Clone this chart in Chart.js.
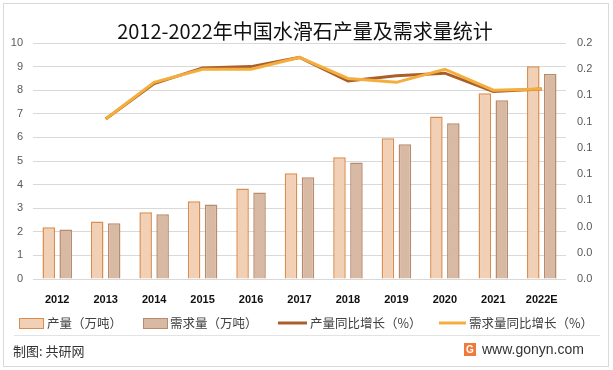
<!DOCTYPE html>
<html>
<head>
<meta charset="utf-8">
<script src="https://cdn.jsdelivr.net/npm/chart.js@4/dist/chart.umd.min.js"></script>
<style>
  html, body { margin: 0; padding: 0; background: #fff; }
  #wrap { width: 613px; height: 370px; }
</style>
</head>
<body>
<div id="wrap"><canvas id="c" width="613" height="370"></canvas></div>
<script>
// data
const years = ["2012", "2013", "2014", "2015", "2016", "2017", "2018", "2019", "2020", "2021", "2022E"];
const output = [2.19, 2.44, 2.83, 3.29, 3.84, 4.48, 5.16, 5.96, 6.89, 7.87, 9.01];
const demand = [2.10, 2.36, 2.74, 3.16, 3.67, 4.31, 4.94, 5.71, 6.60, 7.57, 8.69];
const outputGrowth = [null, 0.122, 0.149, 0.161, 0.162, 0.169, 0.151, 0.155, 0.157, 0.143, 0.145];
const demandGrowth = [null, 0.122, 0.150, 0.160, 0.160, 0.169, 0.153, 0.150, 0.160, 0.144, 0.145];
const labels = ["产量（万吨）", "需求量（万吨）", "产量同比增长（%）", "需求量同比增长（%）"];

const cjk = '"Noto Sans CJK SC", "Noto Sans", sans-serif';

const colOut = "#F1D0B5", colOutEdge = "#D98E50";
const colDem = "#D7B9A4", colDemEdge = "#B98B6C";
const colLine1 = "#AA5F2A", colLine2 = "#F3AE3D";

const decor = {
  id: "decor",
  afterDraw(chart) {
    const ctx = chart.ctx;
    ctx.save();
    // frame
    ctx.strokeStyle = "#D9D9D9";
    ctx.lineWidth = 1;
    ctx.strokeRect(3.5, 3.5, 605, 363);

    // title
    ctx.fillStyle = "#111";
    ctx.font = "20px " + cjk;
    ctx.textAlign = "center";
    ctx.textBaseline = "middle";
    ctx.fillText("2012-2022年中国水滑石产量及需求量统计", 305, 31);

    // legend
    ctx.font = "12.5px " + cjk;
    ctx.textAlign = "left";
    const ly = 323;
    ctx.lineWidth = 1;
    ctx.fillStyle = colOut; ctx.fillRect(19.5, 318.5, 24, 10);
    ctx.strokeStyle = colOutEdge; ctx.strokeRect(19.5, 318.5, 24, 10);
    ctx.fillStyle = colDem; ctx.fillRect(143.5, 318.5, 24, 10);
    ctx.strokeStyle = colDemEdge; ctx.strokeRect(143.5, 318.5, 24, 10);
    ctx.lineWidth = 3;
    ctx.strokeStyle = colLine1;
    ctx.beginPath(); ctx.moveTo(278, ly); ctx.lineTo(307, ly); ctx.stroke();
    ctx.strokeStyle = colLine2;
    ctx.beginPath(); ctx.moveTo(439, ly); ctx.lineTo(466, ly); ctx.stroke();
    ctx.fillStyle = "#404040";
    ctx.fillText(labels[0], 47, ly);
    ctx.fillText(labels[1], 170, ly);
    ctx.fillText(labels[2], 310, ly);
    ctx.fillText(labels[3], 469, ly);

    // footer
    ctx.strokeStyle = "#E3E3E3";
    ctx.lineWidth = 1;
    ctx.beginPath(); ctx.moveTo(14, 335.5); ctx.lineTo(600, 335.5); ctx.stroke();
    ctx.fillStyle = "#333";
    ctx.font = "13px " + cjk;
    ctx.fillText("制图: 共研网", 13, 351);
    // small logo
    ctx.fillStyle = "#F07A3C";
    ctx.fillRect(464, 343, 12, 13);
    ctx.fillStyle = "#fff";
    ctx.font = "bold 10px 'Liberation Sans'";
    ctx.textAlign = "center";
    ctx.fillText("G", 470, 350);
    ctx.fillStyle = "#333";
    ctx.textAlign = "left";
    ctx.font = "14px 'Liberation Sans'";
    ctx.fillText("www.gonyn.com", 482, 350);
    ctx.restore();
  }
};

new Chart(document.getElementById("c"), {
  data: {
    labels: years,
    datasets: [
      {
        type: "line", label: labels[3], data: demandGrowth, yAxisID: "y1", order: 0,
        borderColor: colLine2, borderWidth: 3, pointRadius: 0, tension: 0
      },
      {
        type: "line", label: labels[2], data: outputGrowth, yAxisID: "y1", order: 1,
        borderColor: colLine1, borderWidth: 3, pointRadius: 0, tension: 0
      },
      {
        type: "bar", label: labels[0], data: output, yAxisID: "y", order: 2,
        backgroundColor: colOut, borderColor: colOutEdge, borderWidth: 1.5,
        categoryPercentage: 0.7, barPercentage: 0.74
      },
      {
        type: "bar", label: labels[1], data: demand, yAxisID: "y", order: 3,
        backgroundColor: colDem, borderColor: colDemEdge, borderWidth: 1.5,
        categoryPercentage: 0.7, barPercentage: 0.74
      }
    ]
  },
  options: {
    responsive: false,
    animation: false,
    layout: { padding: { left: 0, right: 7, top: 43, bottom: 61 } },
    plugins: {
      legend: { display: false },
      title: { display: false },
      tooltip: { enabled: false }
    },
    scales: {
      x: {
        grid: { display: false },
        border: { display: false },
        ticks: { color: "#111", padding: 6, font: { family: "Liberation Sans", size: 11, weight: "bold" } },
        afterFit(s) { s.height = 30; }
      },
      y: {
        position: "left",
        min: 0, max: 10,
        ticks: { stepSize: 1, color: "#595959", padding: 10, font: { family: "Liberation Sans", size: 11 } },
        grid: { color: "#D9D9D9", drawTicks: false },
        border: { display: false },
        afterFit(s) { s.width = 33; }
      },
      y1: {
        position: "right",
        min: 0, max: 0.18,
        ticks: {
          stepSize: 0.02, color: "#595959", padding: 11, font: { family: "Liberation Sans", size: 11 },
          callback: (v) => v.toFixed(1)
        },
        grid: { display: false, drawTicks: false },
        border: { display: false },
        afterFit(s) { s.width = 40; }
      }
    }
  },
  plugins: [decor]
});
</script>
</body>
</html>
